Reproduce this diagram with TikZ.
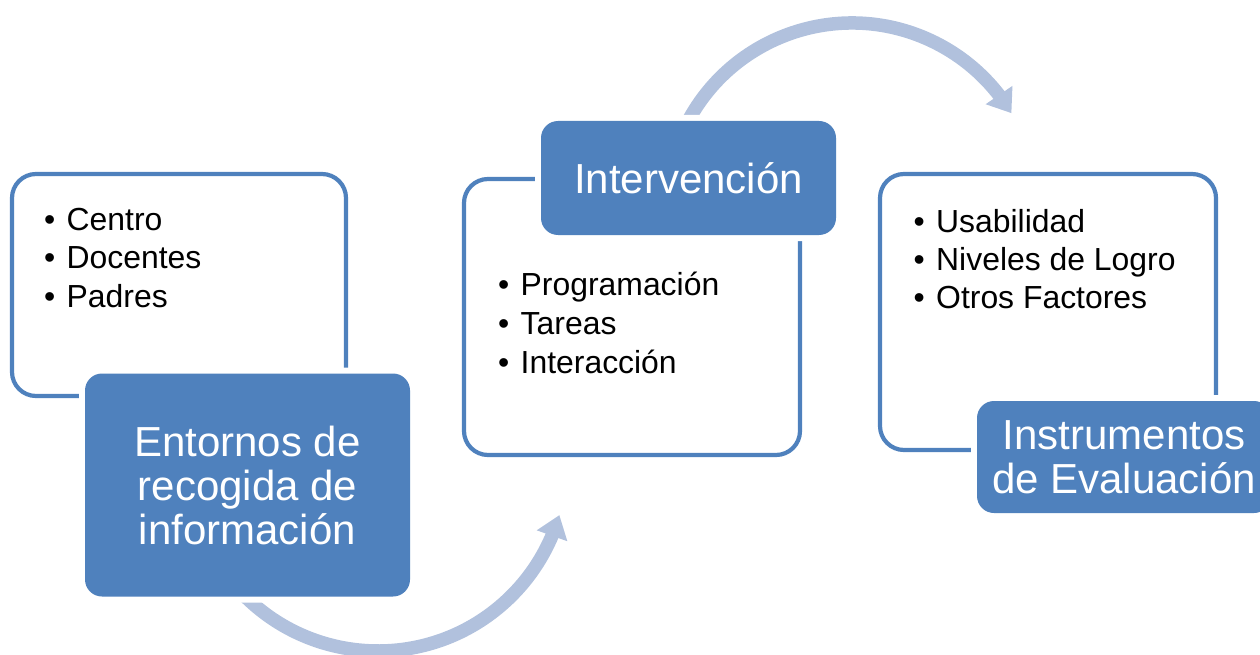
\documentclass[tikz,border=0pt]{standalone}
\usepackage{fontspec}
\setmainfont{Liberation Sans}
\usetikzlibrary{arrows.meta,bending}
\definecolor{accent}{RGB}{79,129,189}
\definecolor{arrowc}{RGB}{177,193,221}
\newcommand{\bulitem}[1]{\makebox[22.5pt][l]{•}#1}
\begin{document}
\begin{tikzpicture}[x=1pt,y=1pt,
  outline/.style={draw=accent, line width=4.2pt, rounded corners=24pt, inner sep=0pt},
  bluebox/.style={fill=accent, rounded corners=17pt, inner sep=0pt, align=center, text=white,
    font=\fontsize{42}{44}\selectfont, preaction={draw=white, line width=12pt}},
  flowarrow/.style={draw=arrowc, line width=13.5pt, -{Triangle[length=22pt,width=31pt]}},
  bullettext/.style={anchor=base west, inner sep=0pt, font=\fontsize{31.9}{38.5}\selectfont}
]
\useasboundingbox (0,0) rectangle (1260,-655);
% outline boxes
\node[outline, minimum width=334pt, minimum height=222pt] (o1) at (179,-285) {};
\node[outline, minimum width=336pt, minimum height=276pt] (o2) at (632,-317) {};
\node[outline, minimum width=336pt, minimum height=276pt] (o3) at (1048,-312) {};
% bullet lists
\foreach \t [count=\i] in {Centro,Docentes,Padres}
  \node[bullettext] (la\i) at (44,{-230-38.5*(\i-1)}) {\bulitem{\t}};
\foreach \t [count=\i] in {Programación,Tareas,Interacción}
  \node[bullettext] (lb\i) at (498,{-295-39*(\i-1)}) {\bulitem{\t}};
\foreach \t [count=\i] in {Usabilidad,Niveles de Logro,Otros Factores}
  \node[bullettext] (lc\i) at (913.5,{-232-38*(\i-1)}) {\bulitem{\t}};
% arrows
\coordinate (c1) at (378,-462);
\coordinate (c2) at (852,-209);
\draw[flowarrow] ([shift={(-140:189)}]c1) arc[start angle=-140, end angle=-16.3, radius=189];
\draw[flowarrow] ([shift={(155:186)}]c2) arc[start angle=155, end angle=31, radius=186];
% blue boxes
\node[bluebox, minimum width=325pt, minimum height=223pt] (b1) at (247.5,-485)
  {Entornos de\\recogida de\\información};
\node[bluebox, minimum width=295pt, minimum height=114pt] (b2) at (688.5,-178) {Intervención};
\node[bluebox, minimum width=294pt, minimum height=112pt] (b3) at (1124,-457)
  {Instrumentos\\de Evaluación};
\end{tikzpicture}
\end{document}
